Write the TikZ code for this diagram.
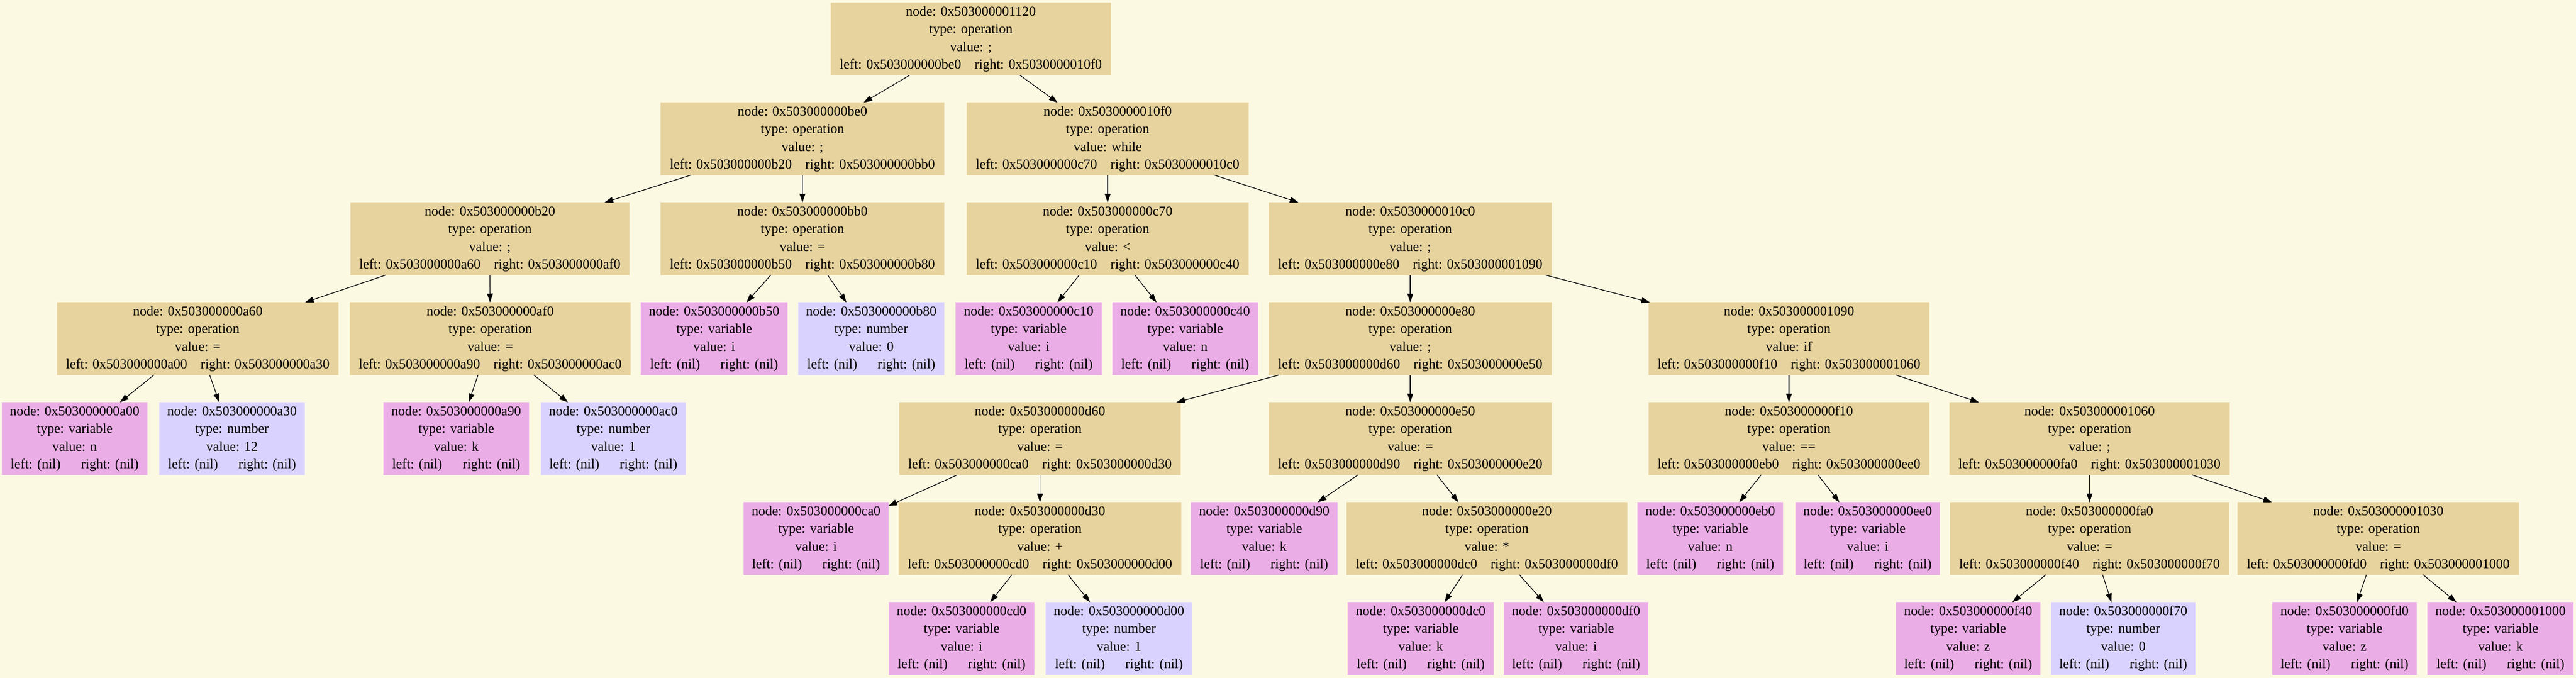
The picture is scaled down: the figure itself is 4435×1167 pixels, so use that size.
\documentclass[tikz,border=0pt]{standalone}
\usepackage{fontspec}
\setmainfont{Liberation Serif}
\usetikzlibrary{arrows.meta}
\definecolor{bg}{HTML}{FCF9E3}
\definecolor{opfill}{HTML}{E7D39D}
\definecolor{opline}{HTML}{EEDDAF}
\definecolor{varfill}{HTML}{EBADE6}
\definecolor{varline}{HTML}{F0BDEB}
\definecolor{numfill}{HTML}{D9D2FE}
\definecolor{numline}{HTML}{E3DDFE}
\newcommand{\Lstrut}{\vrule height 10.7pt depth 4.55pt width 0pt}
\newcommand{\opt}[4]{\Lstrut node: 0x#1\\\Lstrut type: operation\\\Lstrut value: #2\\\Lstrut left: 0x#3\hspace{11.5pt}right: 0x#4}
\newcommand{\lft}[3]{\Lstrut node: 0x#1\\\Lstrut type: #2\\\Lstrut value: #3\\\Lstrut left: (nil)\hspace{17.5pt}right: (nil)}
\newcommand{\edg}[3]{\draw[edge] ([xshift=#3*0.5pt]#1.south) -- (#2);}
\tikzset{
  box/.style={rectangle, minimum height=62.5pt, inner ysep=0pt, outer sep=0pt, align=center,
    line width=0.5pt, font=\fontsize{11.75pt}{15.25pt}\selectfont},
  opn/.style={box, fill=opfill, draw=opline, inner xsep=7.75pt},
  varn/.style={box, fill=varfill, draw=varline, inner xsep=6.75pt},
  numn/.style={box, fill=numfill, draw=numline, inner xsep=6.75pt},
  edge/.style={-{Triangle[length=7.5pt,width=5pt]}, line width=0.6pt, black}
}
\begin{document}
\begin{tikzpicture}[x=0.5pt,y=-0.5pt]
\fill[bg] (0,0) rectangle (4435,1167);
\useasboundingbox (0,0) rectangle (4435,1167);
% level 0
\node[opn] (n1120) at (1671.5,67) {\opt{503000001120}{;}{503000000be0}{5030000010f0}};
% level 1
\node[opn] (nbe0) at (1381.5,239) {\opt{503000000be0}{;}{503000000b20}{503000000bb0}};
\node[opn] (n10f0) at (1907,239) {\opt{5030000010f0}{while}{503000000c70}{5030000010c0}};
% level 2
\node[opn] (nb20) at (843.5,411) {\opt{503000000b20}{;}{503000000a60}{503000000af0}};
\node[opn] (nbb0) at (1381.5,411) {\opt{503000000bb0}{=}{503000000b50}{503000000b80}};
\node[opn] (nc70) at (1907,411) {\opt{503000000c70}{<}{503000000c10}{503000000c40}};
\node[opn] (n10c0) at (2428,411) {\opt{5030000010c0}{;}{503000000e80}{503000001090}};
% level 3
\node[opn] (na60) at (340.5,583) {\opt{503000000a60}{=}{503000000a00}{503000000a30}};
\node[opn] (naf0) at (844,583) {\opt{503000000af0}{=}{503000000a90}{503000000ac0}};
\node[varn] (nb50) at (1229.5,583) {\lft{503000000b50}{variable}{i}};
\node[numn] (nb80) at (1500,583) {\lft{503000000b80}{number}{0}};
\node[varn] (nc10) at (1771,583) {\lft{503000000c10}{variable}{i}};
\node[varn] (nc40) at (2040.5,583) {\lft{503000000c40}{variable}{n}};
\node[opn] (ne80) at (2428,583) {\opt{503000000e80}{;}{503000000d60}{503000000e50}};
\node[opn] (n1090) at (3080,583) {\opt{503000001090}{if}{503000000f10}{503000001060}};
% level 4
\node[varn] (na00) at (128.5,755) {\lft{503000000a00}{variable}{n}};
\node[numn] (na30) at (399.5,755) {\lft{503000000a30}{number}{12}};
\node[varn] (na90) at (785.5,755) {\lft{503000000a90}{variable}{k}};
\node[numn] (nac0) at (1056,755) {\lft{503000000ac0}{number}{1}};
\node[opn] (nd60) at (1790.5,755) {\opt{503000000d60}{=}{503000000ca0}{503000000d30}};
\node[opn] (ne50) at (2428,755) {\opt{503000000e50}{=}{503000000d90}{503000000e20}};
\node[opn] (nf10) at (3080,755) {\opt{503000000f10}{==}{503000000eb0}{503000000ee0}};
\node[opn] (n1060) at (3597.5,755) {\opt{503000001060}{;}{503000000fa0}{503000001030}};
% level 5
\node[varn] (nca0) at (1405,927) {\lft{503000000ca0}{variable}{i}};
\node[opn] (nd30) at (1790.5,927) {\opt{503000000d30}{+}{503000000cd0}{503000000d00}};
\node[varn] (nd90) at (2176.5,927) {\lft{503000000d90}{variable}{k}};
\node[opn] (ne20) at (2560,927) {\opt{503000000e20}{*}{503000000dc0}{503000000df0}};
\node[varn] (neb0) at (2944.5,927) {\lft{503000000eb0}{variable}{n}};
\node[varn] (nee0) at (3215.5,927) {\lft{503000000ee0}{variable}{i}};
\node[opn] (nfa0) at (3597.5,927) {\opt{503000000fa0}{=}{503000000f40}{503000000f70}};
\node[opn] (n1030) at (4094.5,927) {\opt{503000001030}{=}{503000000fd0}{503000001000}};
% level 6
\node[varn] (ncd0) at (1655.5,1099) {\lft{503000000cd0}{variable}{i}};
\node[numn] (nd00) at (1926.5,1099) {\lft{503000000d00}{number}{1}};
\node[varn] (ndc0) at (2446,1099) {\lft{503000000dc0}{variable}{k}};
\node[varn] (ndf0) at (2713.5,1099) {\lft{503000000df0}{variable}{i}};
\node[varn] (nf40) at (3388.5,1099) {\lft{503000000f40}{variable}{z}};
\node[numn] (nf70) at (3655.5,1099) {\lft{503000000f70}{number}{0}};
\node[varn] (nfd0) at (4036.5,1099) {\lft{503000000fd0}{variable}{z}};
\node[varn] (n1000) at (4305,1099) {\lft{503000001000}{variable}{k}};
% edges
\edg{n1120}{nbe0}{-105.5}
\edg{n1120}{n10f0}{84.5}
\edg{nbe0}{nb20}{-192.5}
\edg{nbe0}{nbb0}{0}
\edg{n10f0}{nc70}{0}
\edg{n10f0}{n10c0}{184}
\edg{nb20}{na60}{-179.5}
\edg{nb20}{naf0}{0}
\edg{nbb0}{nb50}{-54.5}
\edg{nbb0}{nb80}{43.5}
\edg{nc70}{nc10}{-49}
\edg{nc70}{nc40}{47}
\edg{n10c0}{ne80}{0}
\edg{n10c0}{n1090}{233}
\edg{na60}{na00}{-75.5}
\edg{na60}{na30}{20.5}
\edg{naf0}{na90}{-21}
\edg{naf0}{nac0}{75}
\edg{ne80}{nd60}{-226}
\edg{ne80}{ne50}{0}
\edg{n1090}{nf10}{0}
\edg{n1090}{n1060}{184}
\edg{nd60}{nca0}{-142.5}
\edg{nd60}{nd30}{0}
\edg{ne50}{nd90}{-90}
\edg{ne50}{ne20}{46}
\edg{nf10}{neb0}{-48}
\edg{nf10}{nee0}{50}
\edg{n1060}{nfa0}{0}
\edg{n1060}{n1030}{176.5}
\edg{nd30}{ncd0}{-48.5}
\edg{nd30}{nd00}{48.5}
\edg{ne20}{ndc0}{-42}
\edg{ne20}{ndf0}{56}
\edg{nfa0}{nf40}{-75.5}
\edg{nfa0}{nf70}{22.5}
\edg{n1030}{nfd0}{-20.5}
\edg{n1030}{n1000}{77.5}
\end{tikzpicture}
\end{document}
